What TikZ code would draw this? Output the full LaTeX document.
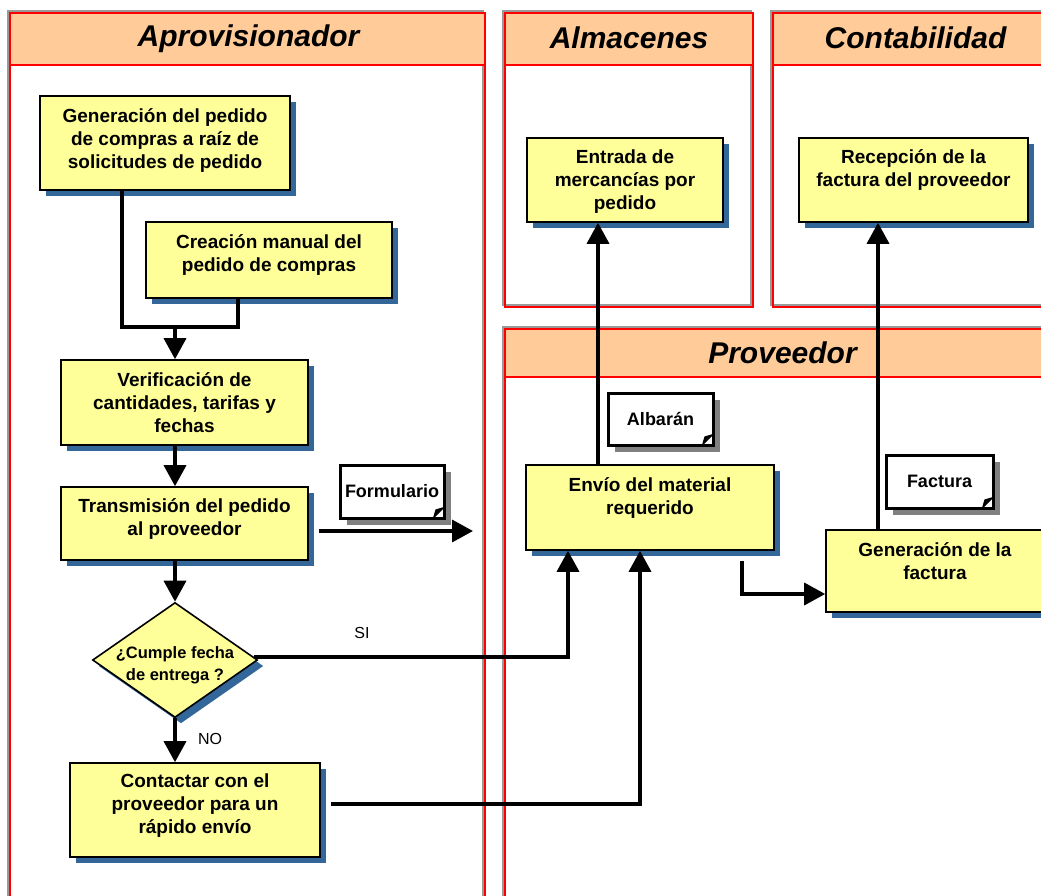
\documentclass[tikz,border=0pt]{standalone}
\usepackage{fontspec}
\setmainfont{Liberation Sans}
\usetikzlibrary{shapes.geometric,shadows,arrows.meta,calc}

\definecolor{lanered}{HTML}{FF0000}
\definecolor{lanegray}{HTML}{999999}
\definecolor{headfill}{HTML}{FFCC99}
\definecolor{procfill}{HTML}{FFFF99}
\definecolor{procshadow}{HTML}{336699}
\definecolor{docshadow}{HTML}{808080}

% centred, top-aligned block of lines for the process boxes
\newcommand\boxlines[2]{\parbox[t]{#1}{\centering #2}}

\tikzset{
  proc/.style={draw=black, line width=1.6pt, fill=procfill, inner sep=0pt,
    drop shadow={shadow xshift=6pt, shadow yshift=-6pt, fill=procshadow, opacity=1}},
  ptext/.style={anchor=base, inner sep=0pt, font=\bfseries\fontsize{19}{23}\selectfont},
  doc/.style={draw=black, line width=3pt, fill=white, inner sep=0pt,
    font=\bfseries\fontsize{18}{22}\selectfont,
    drop shadow={shadow xshift=7pt, shadow yshift=-7pt, fill=docshadow, opacity=1}},
  flow/.style={line width=3.5pt, draw=black},
  arr/.style={flow, -{Triangle[width=22pt,length=21pt]}},
  lanebox/.style={draw=lanered, line width=2pt},
  laneshade/.style={draw=lanegray, line width=2pt},
  lanetitle/.style={inner sep=0pt, font=\bfseries\itshape\fontsize{30}{36}\selectfont},
  lbl/.style={inner sep=0pt, font=\fontsize{16}{19}\selectfont},
}

\begin{document}
\begin{tikzpicture}[x=1pt,y=-1pt]
\useasboundingbox (0,0) rectangle (1041,895);
\clip (0,0) rectangle (1041,895);

% ---------- swimlanes ----------
% Aprovisionador
\draw[laneshade] (8,11) rectangle (483,960);
\fill[headfill] (10,13) rectangle (485,65);
\draw[lanebox] (10,13) rectangle (485,960);
\draw[lanebox] (10,65) -- (485,65);
\node[lanetitle] (t-aprov) at (248.5,39) {Aprovisionador};

% Almacenes
\draw[laneshade] (503,11) rectangle (751,305);
\fill[headfill] (505,13) rectangle (753,65);
\draw[lanebox] (505,13) rectangle (753,307);
\draw[lanebox] (505,65) -- (753,65);
\node[lanetitle] (t-alm) at (629,38) {Almacenes};

% Contabilidad
\draw[laneshade] (771,11) rectangle (1056,305);
\fill[headfill] (773,13) rectangle (1058,65);
\draw[lanebox] (773,13) rectangle (1058,307);
\draw[lanebox] (773,65) -- (1058,65);
\node[lanetitle] (t-cont) at (915.5,38) {Contabilidad};

% Proveedor
\draw[laneshade] (503,327) rectangle (1058,960);
\fill[headfill] (505,329) rectangle (1060,377);
\draw[lanebox] (505,329) rectangle (1060,960);
\draw[lanebox] (505,377) -- (1060,377);
\node[lanetitle] (t-prov) at (782.5,353) {Proveedor};

% ---------- process boxes ----------
\node[proc, minimum width=250pt, minimum height=94pt] (gen) at (165,143) {};
\node[ptext] (gen-t) at ([yshift=-27pt]gen.north)
  {\boxlines{240pt}{Generación del pedido\\de compras a raíz de\\solicitudes de pedido}};

\node[proc, minimum width=246pt, minimum height=76pt] (cre) at (269,260) {};
\node[ptext] (cre-t) at ([yshift=-27pt]cre.north)
  {\boxlines{236pt}{Creación manual del\\pedido de compras}};

\node[proc, minimum width=247pt, minimum height=85pt] (ver) at (184.5,402.5) {};
\node[ptext] (ver-t) at ([yshift=-27pt]ver.north)
  {\boxlines{237pt}{Verificación de\\cantidades, tarifas y\\fechas}};

\node[proc, minimum width=247pt, minimum height=73pt] (tra) at (184.5,523.5) {};
\node[ptext] (tra-t) at ([yshift=-26pt]tra.north)
  {\boxlines{237pt}{Transmisión del pedido\\al proveedor}};

\node[proc, shape=diamond, minimum width=165pt, minimum height=115pt] (dia) at (175,660) {};
\node[ptext, font=\bfseries\fontsize{16.5}{22}\selectfont] (dia-t) at (175,658)
  {\boxlines{160pt}{¿Cumple fecha\\de entrega ?}};

\node[proc, minimum width=250pt, minimum height=94pt] (con) at (195,810) {};
\node[ptext] (con-t) at ([yshift=-25pt]con.north)
  {\boxlines{240pt}{Contactar con el\\proveedor para un\\rápido envío}};

\node[proc, minimum width=196pt, minimum height=84pt] (ent) at (625,180) {};
\node[ptext] (ent-t) at ([yshift=-26pt]ent.north)
  {\boxlines{190pt}{Entrada de\\mercancías por\\pedido}};

\node[proc, minimum width=229pt, minimum height=84pt] (rec) at (913.5,180) {};
\node[ptext] (rec-t) at ([yshift=-26pt]rec.north)
  {\boxlines{225pt}{Recepción de la\\factura del proveedor}};

\node[proc, minimum width=248pt, minimum height=85pt] (env) at (650,507.5) {};
\node[ptext] (env-t) at ([yshift=-27pt]env.north)
  {\boxlines{238pt}{Envío del material\\requerido}};

\node[proc, minimum width=218pt, minimum height=82pt] (gfa) at (935,571) {};
\node[ptext] (gfa-t) at ([yshift=-27pt]gfa.north)
  {\boxlines{210pt}{Generación de la\\factura}};

% ---------- documents ----------
\node[doc, minimum width=104pt, minimum height=53pt] (form) at (392,491.5) {Formulario};
\node[doc, minimum width=105pt, minimum height=52pt] (alb) at (660.5,419) {Albarán};
\node[doc, minimum width=107pt, minimum height=53pt] (fac) at (939.5,481.5) {Factura};
\foreach \d in {form,alb,fac}{
  \fill[black] ($(\d.south east)+(-13,0)$) -- ($(\d.south east)+(0,-13)$)
    -- ($(\d.south east)+(-10,-10)$) -- cycle;
}

% ---------- connectors ----------
\coordinate (j1) at (122,327);
\coordinate (j2) at (238,327);
\coordinate (j3) at (175,327);
\draw[flow] (gen.south -| j1) -- (j1) -- (j2) -- (cre.south -| j2);
\draw[arr] (j3) -- (ver.north -| j3);
\draw[arr] (ver.south -| j3) -- (tra.north -| j3);
\draw[arr] (tra.south -| j3) -- (dia.north);
\draw[arr] (dia.south) -- (con.north -| dia.south);
\node[lbl] (no) at (210,739) {NO};

\coordinate (f2) at (473,531);
\draw[arr] ($(tra.east |- f2)+(10,0)$) -- (f2);

\coordinate (s1) at (568,657);
\draw[arr] ($(dia.east)+(-4,-3)$) -- ($(dia.east -| s1)+(0,-3)$) -- (env.south -| s1);
\node[lbl] (si) at (362,633) {SI};

\coordinate (c1) at (640,804);
\draw[arr] ($(con.east |- c1)+(10,0)$) -- (c1) -- (env.south -| c1);

\coordinate (e1) at (598,300);
\draw[arr] (env.north -| e1) -- (ent.south -| e1);

\coordinate (g1) at (742,594);
\draw[arr] ($(env.south -| g1)+(0,10)$) -- (g1) -- (gfa.west |- g1);

\coordinate (r1) at (878,400);
\draw[arr] (gfa.north -| r1) -- (rec.south -| r1);
\end{tikzpicture}
\end{document}
